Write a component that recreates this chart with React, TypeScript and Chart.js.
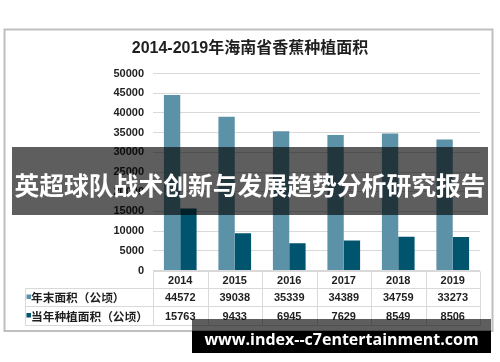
import React, { useEffect, useRef } from "react";
import { Chart, registerables } from "chart.js";

Chart.register(...registerables);

const TITLE = "2014-2019年海南省香蕉种植面积";
const YEARS = ["2014", "2015", "2016", "2017", "2018", "2019"];
const SERIES_NAMES = ["年末面积（公顷）", "当年种植面积（公顷）"];
const YEAR_END_AREA = [44572, 39038, 35339, 34389, 34759, 33273];
const PLANTED_AREA = [15763, 9433, 6945, 7629, 8549, 8506];
const Y_MAX = 50000;
const Y_STEP = 5000;
const BANNER_TEXT = "英超球队战术创新与发展趋势分析研究报告";
const WATERMARK_TEXT = "www.index--c7entertainment.com";

const COLORS = ["rgb(92,146,168)", "rgb(1,84,110)"];
const LATIN = '"Liberation Sans", Arial, "Noto Sans CJK SC", sans-serif';
const CJK = '"Noto Sans CJK SC", "Liberation Sans", sans-serif';
const TEXT_COLOR = "#1f1f1f";
const GRID_COLOR = "#d9d9d9";

const framePlugin = {
  id: "framePlugin",
  beforeDraw(chart: any) {
    const ctx = chart.ctx;
    ctx.save();
    ctx.fillStyle = "#ffffff";
    ctx.fillRect(0, 0, chart.width, chart.height);
    ctx.strokeStyle = "#bfbfbf";
    ctx.lineWidth = 2;
    ctx.strokeRect(4.5, 29.5, 488, 301.5);
    ctx.fillStyle = TEXT_COLOR;
    ctx.font = `bold 16px ${LATIN}`;
    ctx.textAlign = "center";
    ctx.textBaseline = "middle";
    ctx.fillText(TITLE, 250, 48.5);
    ctx.restore();
  },
  afterDraw(chart: any) {
    const ctx = chart.ctx;
    const xs = chart.scales.x;
    const area = chart.chartArea;
    const n = YEARS.length;
    const half = (xs.getPixelForValue(1) - xs.getPixelForValue(0)) / 2;
    const rows = [Math.round(area.bottom) + 0.5, 288.5, 306.5, 325.5];
    const labelLeft = 25.5;
    ctx.save();
    ctx.strokeStyle = GRID_COLOR;
    ctx.lineWidth = 1;
    ctx.beginPath();
    ctx.moveTo(area.left, rows[0]);
    ctx.lineTo(area.right, rows[0]);
    for (let r = 1; r < rows.length; r++) {
      ctx.moveTo(labelLeft, rows[r]);
      ctx.lineTo(area.right, rows[r]);
    }
    ctx.moveTo(labelLeft, rows[1]);
    ctx.lineTo(labelLeft, rows[3]);
    for (let i = 0; i <= n; i++) {
      const x = Math.round(xs.getPixelForValue(0) - half + i * 2 * half) + 0.5;
      ctx.moveTo(x, rows[0]);
      ctx.lineTo(x, rows[3]);
    }
    ctx.stroke();

    ctx.fillStyle = TEXT_COLOR;
    ctx.textAlign = "center";
    ctx.textBaseline = "middle";
    ctx.font = `bold 11px ${LATIN}`;
    const seriesData = [YEAR_END_AREA, PLANTED_AREA];
    for (let i = 0; i < n; i++) {
      const cx = xs.getPixelForValue(i);
      ctx.fillText(YEARS[i], cx, (rows[0] + rows[1]) / 2 + 0.5);
      for (let s = 0; s < 2; s++) {
        ctx.fillText(String(seriesData[s][i]), cx, (rows[s + 1] + rows[s + 2]) / 2 + 0.5);
      }
    }
    ctx.textAlign = "left";
    ctx.font = `bold 11.7px ${CJK}`;
    for (let s = 0; s < 2; s++) {
      const cy = (rows[s + 1] + rows[s + 2]) / 2;
      ctx.fillStyle = COLORS[s];
      ctx.fillRect(26.5, cy - 3, 4.5, 4.5);
      ctx.fillStyle = TEXT_COLOR;
      ctx.fillText(SERIES_NAMES[s], 31, cy + 0.5);
    }
    ctx.restore();
  },
};

export default function App() {
  const canvasRef = useRef<HTMLCanvasElement | null>(null);

  useEffect(() => {
    if (!canvasRef.current) return;
    const chart = new Chart(canvasRef.current, {
      type: "bar",
      data: {
        labels: YEARS,
        datasets: [
          {
            label: SERIES_NAMES[0],
            data: YEAR_END_AREA,
            backgroundColor: COLORS[0],
            categoryPercentage: 0.6,
            barPercentage: 1.0,
          },
          {
            label: SERIES_NAMES[1],
            data: PLANTED_AREA,
            backgroundColor: COLORS[1],
            categoryPercentage: 0.6,
            barPercentage: 1.0,
          },
        ],
      },
      options: {
        animation: false,
        responsive: false,
        devicePixelRatio: 1,
        layout: { padding: { top: 73.5, bottom: 91.5, left: 0, right: 20 } },
        plugins: {
          legend: { display: false },
          tooltip: { enabled: false },
          title: { display: false },
        },
        scales: {
          x: { display: false },
          y: {
            min: 0,
            max: Y_MAX,
            ticks: {
              stepSize: Y_STEP,
              padding: 9,
              color: TEXT_COLOR,
              font: { family: LATIN, size: 11, weight: "bold" },
              callback: (v: any) => String(v),
            },
            grid: { color: GRID_COLOR, drawTicks: false, lineWidth: 1 },
            border: { display: false },
            afterFit: (scale: any) => {
              scale.width = 153;
            },
          },
        },
      } as any,
      plugins: [framePlugin],
    });
    return () => chart.destroy();
  }, []);

  return (
    <div style={{ position: "absolute", left: 0, top: 0, width: 500, height: 362, overflow: "hidden", background: "#fff" }}>
      <canvas ref={canvasRef} width={500} height={362} style={{ position: "absolute", left: 0, top: 0, width: 500, height: 362 }} />
      <div
        style={{
          position: "absolute",
          left: 12,
          top: 147,
          width: 476,
          height: 68,
          background: "rgba(0,0,0,0.63)",
          color: "#fff",
          fontFamily: CJK,
          fontWeight: 700,
          fontSize: 24.8,
          display: "flex",
          alignItems: "center",
          justifyContent: "center",
          paddingTop: 6,
          boxSizing: "border-box",
          whiteSpace: "nowrap",
        }}
      >
        {BANNER_TEXT}
      </div>
      <div style={{ position: "absolute", left: 192, top: 319, width: 299, height: 34, background: "rgba(0,0,0,0.63)" }} />
      <div style={{ position: "absolute", left: 192, top: 331, width: 299, height: 22, background: "#000" }} />
      <div
        style={{
          position: "absolute",
          left: 192,
          top: 319,
          width: 299,
          height: 34,
          color: "#fff",
          fontFamily: '"Open Sans", sans-serif',
          fontWeight: 700,
          fontSize: 16,
          display: "flex",
          alignItems: "center",
          justifyContent: "center",
          paddingTop: 6,
          boxSizing: "border-box",
          whiteSpace: "nowrap",
        }}
      >
        {WATERMARK_TEXT}
      </div>
    </div>
  );
}
